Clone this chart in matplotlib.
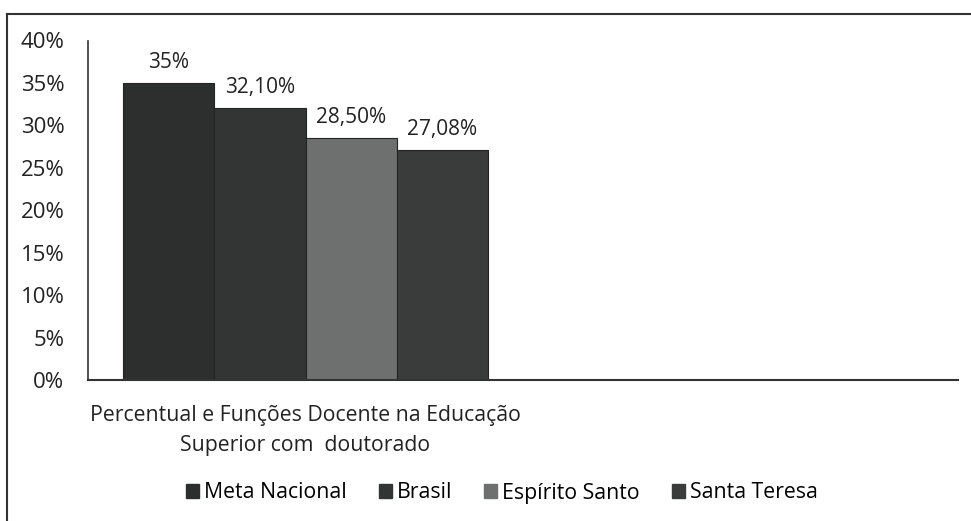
import matplotlib
matplotlib.use("Agg")
import matplotlib.pyplot as plt
from matplotlib.lines import Line2D
import numpy as np

plt.rcParams['font.family'] = ['Open Sans', 'DejaVu Sans']

categories = ["Percentual e Funções Docente na Educação\nSuperior com  doutorado", ""]
series = ["Meta Nacional", "Brasil", "Espírito Santo", "Santa Teresa"]
values = [0.35, 0.321, 0.285, 0.2708]
labels = ["35%", "32,10%", "28,50%", "27,08%"]
colors = ["#2c2f2d", "#323533", "#6d706e", "#393c3a"]
yticks = [0, 0.05, 0.10, 0.15, 0.20, 0.25, 0.30, 0.35, 0.40]
ytick_labels = ["0%", "5%", "10%", "15%", "20%", "25%", "30%", "35%", "40%"]

W, H = 971, 521
fig = plt.figure(figsize=(W / 100, H / 100), dpi=100)
ax = fig.add_axes([88 / W, (H - 380) / H, (958 - 88) / W, (380 - 40.5) / H])

FS = 15.3
w = 0.21
n = len(series)
for i, (s, v, lab, c) in enumerate(zip(series, values, labels, colors)):
    x = 0 + (i - (n - 1) / 2) * w
    ax.bar([x], [v], width=w, color=c, edgecolor="#222422", linewidth=0.8, label=s)
    ax.annotate(lab, (x, v), xytext=(0, 7), textcoords="offset points",
                ha="center", va="bottom", fontsize=15, color="#222222")

ax.set_xlim(-0.5, 1.5)
ax.set_ylim(0, 0.40)
ax.set_yticks(yticks)
ax.set_yticklabels(ytick_labels, fontsize=16, color="#222222")
ax.tick_params(axis="y", length=0, pad=17)
ax.set_xticks([0])
ax.set_xticklabels([categories[0]], fontsize=FS, color="#222222", linespacing=1.55)
ax.tick_params(axis="x", length=0, pad=18)
for sp in ["top", "right"]:
    ax.spines[sp].set_visible(False)
ax.spines["left"].set_color("#333333")
ax.spines["bottom"].set_color("#333333")
ax.spines["left"].set_linewidth(1.2)
ax.spines["bottom"].set_linewidth(1.5)

handles = [plt.Rectangle((0, 0), 1, 1, color=c) for c in colors]
fig.legend(handles, series, loc="center", bbox_to_anchor=(502 / W, (H - 493) / H),
           ncol=4, frameon=False, fontsize=FS, handlelength=0.6, handleheight=0.6,
           handletextpad=0.25, columnspacing=1.5, borderpad=0, borderaxespad=0)

# outer frame (top and left edges visible)
fig.add_artist(Line2D([7 / W, 1.0], [(H - 14) / H, (H - 14) / H], color="#333333", lw=1.5))
fig.add_artist(Line2D([7 / W, 7 / W], [0, (H - 14) / H], color="#333333", lw=1.5))

fig.savefig("out.png", dpi=100, facecolor="white")
